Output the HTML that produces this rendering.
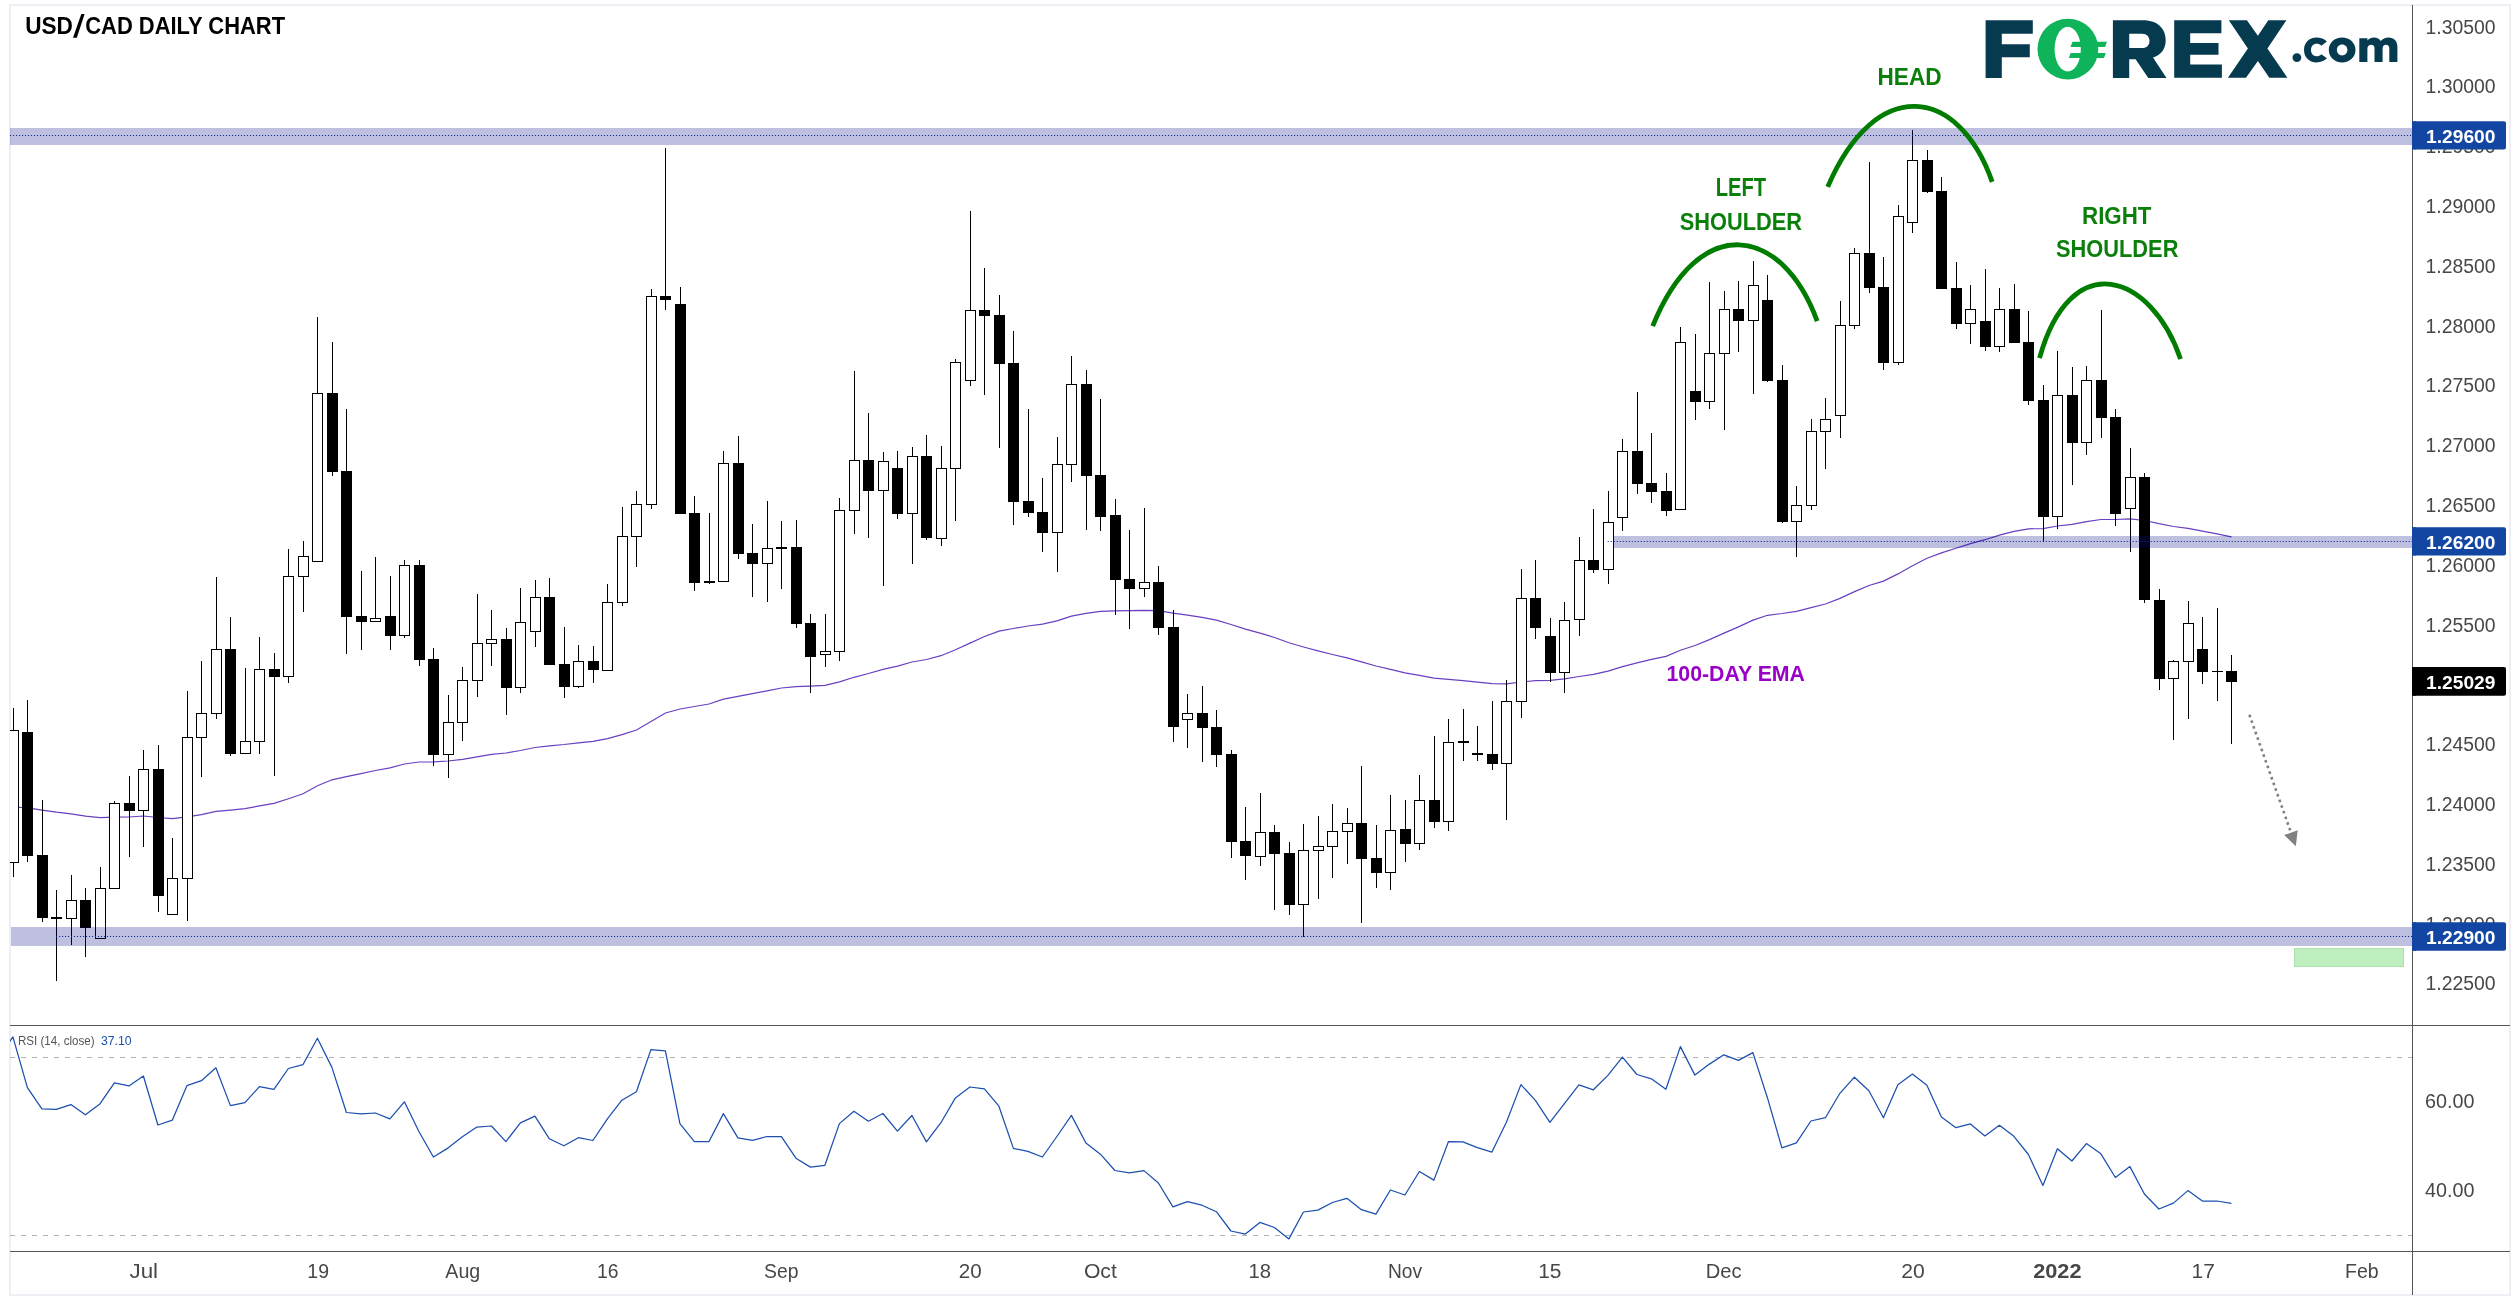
<!DOCTYPE html><html><head><meta charset="utf-8"><style>html,body{margin:0;padding:0;background:#fff;}svg{display:block;will-change:transform} text{font-family:"Liberation Sans",sans-serif;}</style></head><body>
<svg width="2520" height="1301" viewBox="0 0 2520 1301">
<rect width="2520" height="1301" fill="#fff"/>
<defs><clipPath id="mp"><rect x="10" y="5" width="2402" height="1020"/></clipPath><clipPath id="rp"><rect x="10" y="1026" width="2402" height="225"/></clipPath></defs>
<rect x="10" y="5" width="2500" height="1290" fill="none" stroke="#edeff4" stroke-width="2"/>
<g clip-path="url(#mp)">
<polyline points="13.0,807.0 27.5,807.9 42.0,810.1 56.5,812.2 71.0,813.9 85.5,816.1 100.0,817.6 114.5,817.2 129.0,817.0 143.5,816.0 158.0,817.5 172.5,818.6 187.0,816.9 201.5,814.7 216.0,811.4 230.5,810.2 245.0,808.7 259.5,805.9 274.0,803.3 288.5,798.7 303.0,793.7 317.5,785.7 332.0,779.8 346.5,776.6 361.0,773.6 375.5,770.5 390.0,767.9 404.5,764.0 419.0,762.0 433.5,761.8 448.0,761.0 462.5,759.3 477.0,756.9 491.5,754.4 506.0,753.0 520.5,750.5 535.0,747.5 549.5,745.8 564.0,744.5 578.5,742.8 593.0,741.3 607.5,738.6 622.0,734.6 636.5,730.0 651.0,721.4 665.5,713.0 680.0,709.0 694.5,706.5 709.0,704.0 723.5,699.2 738.0,696.3 752.5,693.7 767.0,690.8 781.5,688.0 796.0,686.7 810.5,686.1 825.0,685.4 839.5,681.8 854.0,677.3 868.5,673.5 883.0,669.3 897.5,666.2 912.0,662.0 926.5,659.5 941.0,655.7 955.5,649.8 970.0,643.1 984.5,636.5 999.0,631.1 1013.5,628.5 1028.0,626.0 1042.5,624.1 1057.0,620.8 1071.5,616.1 1086.0,613.3 1100.5,611.4 1115.0,610.9 1129.5,610.6 1144.0,610.3 1158.5,610.7 1173.0,613.1 1187.5,615.1 1202.0,617.4 1216.5,620.1 1231.0,624.5 1245.5,629.1 1260.0,633.1 1274.5,637.5 1289.0,642.8 1303.5,647.0 1318.0,650.9 1332.5,654.5 1347.0,657.9 1361.5,661.9 1376.0,666.0 1390.5,669.3 1405.0,672.8 1419.5,675.3 1434.0,678.2 1448.5,679.4 1463.0,680.7 1477.5,682.1 1492.0,683.7 1506.5,683.9 1521.0,682.0 1535.5,680.7 1550.0,680.3 1564.5,678.9 1579.0,676.5 1593.5,674.3 1608.0,671.1 1622.5,666.7 1637.0,662.9 1651.5,659.4 1666.0,656.4 1680.5,650.3 1695.0,645.5 1709.5,639.6 1724.0,633.1 1738.5,626.9 1753.0,620.1 1767.5,615.3 1782.0,613.5 1796.5,611.3 1811.0,607.7 1825.5,604.0 1840.0,598.4 1854.5,591.6 1869.0,585.5 1883.5,581.1 1898.0,573.9 1912.5,565.7 1927.0,558.2 1941.5,552.9 1956.0,548.3 1970.5,543.6 1985.0,539.7 1999.5,535.2 2014.0,531.4 2028.5,528.8 2043.0,528.6 2057.5,526.0 2072.0,524.4 2086.5,521.6 2101.0,519.5 2115.5,519.5 2130.0,518.8 2144.5,520.5 2159.0,523.7 2173.5,526.5 2188.0,528.4 2202.5,531.2 2217.0,533.9 2231.5,536.8" fill="none" stroke="#6a3fc0" stroke-width="1.2"/>
<g shape-rendering="crispEdges">
<rect x="13" y="708" width="1" height="169" fill="#000"/>
<rect x="8" y="730" width="11" height="133" fill="#000"/>
<rect x="9" y="731" width="9" height="131" fill="#fff"/>
<rect x="27" y="700" width="1" height="162" fill="#000"/>
<rect x="22" y="732" width="11" height="124" fill="#000"/>
<rect x="42" y="800" width="1" height="122" fill="#000"/>
<rect x="37" y="855" width="11" height="63" fill="#000"/>
<rect x="56" y="890" width="1" height="91" fill="#000"/>
<rect x="51" y="917" width="11" height="2" fill="#000"/>
<rect x="71" y="875" width="1" height="70" fill="#000"/>
<rect x="66" y="900" width="11" height="19" fill="#000"/>
<rect x="67" y="901" width="9" height="17" fill="#fff"/>
<rect x="85" y="888" width="1" height="69" fill="#000"/>
<rect x="80" y="900" width="11" height="28" fill="#000"/>
<rect x="100" y="867" width="1" height="71" fill="#000"/>
<rect x="95" y="888" width="11" height="51" fill="#000"/>
<rect x="96" y="889" width="9" height="49" fill="#fff"/>
<rect x="114" y="801" width="1" height="88" fill="#000"/>
<rect x="109" y="803" width="11" height="86" fill="#000"/>
<rect x="110" y="804" width="9" height="84" fill="#fff"/>
<rect x="129" y="776" width="1" height="81" fill="#000"/>
<rect x="124" y="803" width="11" height="8" fill="#000"/>
<rect x="143" y="750" width="1" height="97" fill="#000"/>
<rect x="138" y="769" width="11" height="42" fill="#000"/>
<rect x="139" y="770" width="9" height="40" fill="#fff"/>
<rect x="158" y="745" width="1" height="167" fill="#000"/>
<rect x="153" y="769" width="11" height="127" fill="#000"/>
<rect x="172" y="838" width="1" height="76" fill="#000"/>
<rect x="167" y="878" width="11" height="37" fill="#000"/>
<rect x="168" y="879" width="9" height="35" fill="#fff"/>
<rect x="187" y="691" width="1" height="230" fill="#000"/>
<rect x="182" y="737" width="11" height="142" fill="#000"/>
<rect x="183" y="738" width="9" height="140" fill="#fff"/>
<rect x="201" y="661" width="1" height="116" fill="#000"/>
<rect x="196" y="713" width="11" height="25" fill="#000"/>
<rect x="197" y="714" width="9" height="23" fill="#fff"/>
<rect x="216" y="577" width="1" height="142" fill="#000"/>
<rect x="211" y="649" width="11" height="65" fill="#000"/>
<rect x="212" y="650" width="9" height="63" fill="#fff"/>
<rect x="230" y="617" width="1" height="139" fill="#000"/>
<rect x="225" y="649" width="11" height="105" fill="#000"/>
<rect x="245" y="668" width="1" height="85" fill="#000"/>
<rect x="240" y="741" width="11" height="13" fill="#000"/>
<rect x="241" y="742" width="9" height="11" fill="#fff"/>
<rect x="259" y="637" width="1" height="117" fill="#000"/>
<rect x="254" y="669" width="11" height="73" fill="#000"/>
<rect x="255" y="670" width="9" height="71" fill="#fff"/>
<rect x="274" y="653" width="1" height="123" fill="#000"/>
<rect x="269" y="669" width="11" height="8" fill="#000"/>
<rect x="288" y="549" width="1" height="134" fill="#000"/>
<rect x="283" y="576" width="11" height="101" fill="#000"/>
<rect x="284" y="577" width="9" height="99" fill="#fff"/>
<rect x="303" y="541" width="1" height="71" fill="#000"/>
<rect x="298" y="556" width="11" height="21" fill="#000"/>
<rect x="299" y="557" width="9" height="19" fill="#fff"/>
<rect x="317" y="317" width="1" height="244" fill="#000"/>
<rect x="312" y="393" width="11" height="169" fill="#000"/>
<rect x="313" y="394" width="9" height="167" fill="#fff"/>
<rect x="332" y="342" width="1" height="134" fill="#000"/>
<rect x="327" y="393" width="11" height="79" fill="#000"/>
<rect x="346" y="409" width="1" height="245" fill="#000"/>
<rect x="341" y="471" width="11" height="146" fill="#000"/>
<rect x="361" y="571" width="1" height="79" fill="#000"/>
<rect x="356" y="616" width="11" height="6" fill="#000"/>
<rect x="375" y="557" width="1" height="65" fill="#000"/>
<rect x="370" y="618" width="11" height="4" fill="#000"/>
<rect x="371" y="619" width="9" height="2" fill="#fff"/>
<rect x="390" y="576" width="1" height="74" fill="#000"/>
<rect x="385" y="616" width="11" height="20" fill="#000"/>
<rect x="404" y="560" width="1" height="78" fill="#000"/>
<rect x="399" y="565" width="11" height="71" fill="#000"/>
<rect x="400" y="566" width="9" height="69" fill="#fff"/>
<rect x="419" y="560" width="1" height="106" fill="#000"/>
<rect x="414" y="565" width="11" height="95" fill="#000"/>
<rect x="433" y="648" width="1" height="118" fill="#000"/>
<rect x="428" y="659" width="11" height="96" fill="#000"/>
<rect x="448" y="695" width="1" height="83" fill="#000"/>
<rect x="443" y="722" width="11" height="33" fill="#000"/>
<rect x="444" y="723" width="9" height="31" fill="#fff"/>
<rect x="462" y="667" width="1" height="74" fill="#000"/>
<rect x="457" y="680" width="11" height="43" fill="#000"/>
<rect x="458" y="681" width="9" height="41" fill="#fff"/>
<rect x="477" y="594" width="1" height="103" fill="#000"/>
<rect x="472" y="643" width="11" height="38" fill="#000"/>
<rect x="473" y="644" width="9" height="36" fill="#fff"/>
<rect x="491" y="610" width="1" height="56" fill="#000"/>
<rect x="486" y="639" width="11" height="5" fill="#000"/>
<rect x="487" y="640" width="9" height="3" fill="#fff"/>
<rect x="506" y="628" width="1" height="87" fill="#000"/>
<rect x="501" y="639" width="11" height="49" fill="#000"/>
<rect x="520" y="588" width="1" height="105" fill="#000"/>
<rect x="515" y="622" width="11" height="66" fill="#000"/>
<rect x="516" y="623" width="9" height="64" fill="#fff"/>
<rect x="535" y="580" width="1" height="67" fill="#000"/>
<rect x="530" y="597" width="11" height="35" fill="#000"/>
<rect x="531" y="598" width="9" height="33" fill="#fff"/>
<rect x="549" y="578" width="1" height="87" fill="#000"/>
<rect x="544" y="597" width="11" height="68" fill="#000"/>
<rect x="564" y="627" width="1" height="71" fill="#000"/>
<rect x="559" y="664" width="11" height="23" fill="#000"/>
<rect x="578" y="645" width="1" height="43" fill="#000"/>
<rect x="573" y="661" width="11" height="26" fill="#000"/>
<rect x="574" y="662" width="9" height="24" fill="#fff"/>
<rect x="593" y="646" width="1" height="37" fill="#000"/>
<rect x="588" y="661" width="11" height="9" fill="#000"/>
<rect x="607" y="584" width="1" height="86" fill="#000"/>
<rect x="602" y="602" width="11" height="69" fill="#000"/>
<rect x="603" y="603" width="9" height="67" fill="#fff"/>
<rect x="622" y="507" width="1" height="99" fill="#000"/>
<rect x="617" y="536" width="11" height="67" fill="#000"/>
<rect x="618" y="537" width="9" height="65" fill="#fff"/>
<rect x="636" y="491" width="1" height="76" fill="#000"/>
<rect x="631" y="504" width="11" height="33" fill="#000"/>
<rect x="632" y="505" width="9" height="31" fill="#fff"/>
<rect x="651" y="289" width="1" height="220" fill="#000"/>
<rect x="646" y="296" width="11" height="209" fill="#000"/>
<rect x="647" y="297" width="9" height="207" fill="#fff"/>
<rect x="665" y="148" width="1" height="162" fill="#000"/>
<rect x="660" y="296" width="11" height="4" fill="#000"/>
<rect x="680" y="287" width="1" height="226" fill="#000"/>
<rect x="675" y="304" width="11" height="210" fill="#000"/>
<rect x="694" y="496" width="1" height="95" fill="#000"/>
<rect x="689" y="513" width="11" height="70" fill="#000"/>
<rect x="709" y="513" width="1" height="71" fill="#000"/>
<rect x="704" y="581" width="11" height="2" fill="#000"/>
<rect x="723" y="451" width="1" height="131" fill="#000"/>
<rect x="718" y="463" width="11" height="119" fill="#000"/>
<rect x="719" y="464" width="9" height="117" fill="#fff"/>
<rect x="738" y="436" width="1" height="123" fill="#000"/>
<rect x="733" y="463" width="11" height="91" fill="#000"/>
<rect x="752" y="524" width="1" height="73" fill="#000"/>
<rect x="747" y="553" width="11" height="11" fill="#000"/>
<rect x="767" y="501" width="1" height="101" fill="#000"/>
<rect x="762" y="548" width="11" height="16" fill="#000"/>
<rect x="763" y="549" width="9" height="14" fill="#fff"/>
<rect x="781" y="521" width="1" height="68" fill="#000"/>
<rect x="776" y="547" width="11" height="2" fill="#000"/>
<rect x="796" y="520" width="1" height="108" fill="#000"/>
<rect x="791" y="547" width="11" height="77" fill="#000"/>
<rect x="810" y="614" width="1" height="79" fill="#000"/>
<rect x="805" y="623" width="11" height="34" fill="#000"/>
<rect x="825" y="614" width="1" height="53" fill="#000"/>
<rect x="820" y="651" width="11" height="4" fill="#000"/>
<rect x="821" y="652" width="9" height="2" fill="#fff"/>
<rect x="839" y="498" width="1" height="163" fill="#000"/>
<rect x="834" y="510" width="11" height="142" fill="#000"/>
<rect x="835" y="511" width="9" height="140" fill="#fff"/>
<rect x="854" y="371" width="1" height="163" fill="#000"/>
<rect x="849" y="460" width="11" height="51" fill="#000"/>
<rect x="850" y="461" width="9" height="49" fill="#fff"/>
<rect x="868" y="413" width="1" height="125" fill="#000"/>
<rect x="863" y="460" width="11" height="31" fill="#000"/>
<rect x="883" y="452" width="1" height="134" fill="#000"/>
<rect x="878" y="461" width="11" height="30" fill="#000"/>
<rect x="879" y="462" width="9" height="28" fill="#fff"/>
<rect x="897" y="451" width="1" height="68" fill="#000"/>
<rect x="892" y="468" width="11" height="46" fill="#000"/>
<rect x="912" y="447" width="1" height="117" fill="#000"/>
<rect x="907" y="456" width="11" height="58" fill="#000"/>
<rect x="908" y="457" width="9" height="56" fill="#fff"/>
<rect x="926" y="435" width="1" height="105" fill="#000"/>
<rect x="921" y="456" width="11" height="82" fill="#000"/>
<rect x="941" y="446" width="1" height="100" fill="#000"/>
<rect x="936" y="468" width="11" height="71" fill="#000"/>
<rect x="937" y="469" width="9" height="69" fill="#fff"/>
<rect x="955" y="359" width="1" height="162" fill="#000"/>
<rect x="950" y="362" width="11" height="107" fill="#000"/>
<rect x="951" y="363" width="9" height="105" fill="#fff"/>
<rect x="970" y="211" width="1" height="175" fill="#000"/>
<rect x="965" y="310" width="11" height="71" fill="#000"/>
<rect x="966" y="311" width="9" height="69" fill="#fff"/>
<rect x="984" y="268" width="1" height="127" fill="#000"/>
<rect x="979" y="310" width="11" height="6" fill="#000"/>
<rect x="999" y="295" width="1" height="153" fill="#000"/>
<rect x="994" y="315" width="11" height="49" fill="#000"/>
<rect x="1013" y="331" width="1" height="194" fill="#000"/>
<rect x="1008" y="363" width="11" height="139" fill="#000"/>
<rect x="1028" y="409" width="1" height="108" fill="#000"/>
<rect x="1023" y="501" width="11" height="12" fill="#000"/>
<rect x="1042" y="478" width="1" height="74" fill="#000"/>
<rect x="1037" y="512" width="11" height="21" fill="#000"/>
<rect x="1057" y="437" width="1" height="135" fill="#000"/>
<rect x="1052" y="464" width="11" height="69" fill="#000"/>
<rect x="1053" y="465" width="9" height="67" fill="#fff"/>
<rect x="1071" y="356" width="1" height="126" fill="#000"/>
<rect x="1066" y="384" width="11" height="81" fill="#000"/>
<rect x="1067" y="385" width="9" height="79" fill="#fff"/>
<rect x="1086" y="370" width="1" height="160" fill="#000"/>
<rect x="1081" y="384" width="11" height="92" fill="#000"/>
<rect x="1100" y="399" width="1" height="132" fill="#000"/>
<rect x="1095" y="475" width="11" height="42" fill="#000"/>
<rect x="1115" y="499" width="1" height="116" fill="#000"/>
<rect x="1110" y="515" width="11" height="65" fill="#000"/>
<rect x="1129" y="530" width="1" height="99" fill="#000"/>
<rect x="1124" y="579" width="11" height="10" fill="#000"/>
<rect x="1144" y="508" width="1" height="89" fill="#000"/>
<rect x="1139" y="582" width="11" height="7" fill="#000"/>
<rect x="1140" y="583" width="9" height="5" fill="#fff"/>
<rect x="1158" y="566" width="1" height="69" fill="#000"/>
<rect x="1153" y="582" width="11" height="46" fill="#000"/>
<rect x="1173" y="610" width="1" height="132" fill="#000"/>
<rect x="1168" y="627" width="11" height="100" fill="#000"/>
<rect x="1187" y="694" width="1" height="54" fill="#000"/>
<rect x="1182" y="713" width="11" height="7" fill="#000"/>
<rect x="1183" y="714" width="9" height="5" fill="#fff"/>
<rect x="1202" y="686" width="1" height="76" fill="#000"/>
<rect x="1197" y="713" width="11" height="15" fill="#000"/>
<rect x="1216" y="710" width="1" height="57" fill="#000"/>
<rect x="1211" y="727" width="11" height="28" fill="#000"/>
<rect x="1231" y="750" width="1" height="108" fill="#000"/>
<rect x="1226" y="754" width="11" height="88" fill="#000"/>
<rect x="1245" y="807" width="1" height="73" fill="#000"/>
<rect x="1240" y="841" width="11" height="15" fill="#000"/>
<rect x="1260" y="793" width="1" height="73" fill="#000"/>
<rect x="1255" y="832" width="11" height="25" fill="#000"/>
<rect x="1256" y="833" width="9" height="23" fill="#fff"/>
<rect x="1274" y="825" width="1" height="85" fill="#000"/>
<rect x="1269" y="832" width="11" height="22" fill="#000"/>
<rect x="1289" y="842" width="1" height="73" fill="#000"/>
<rect x="1284" y="853" width="11" height="52" fill="#000"/>
<rect x="1303" y="824" width="1" height="113" fill="#000"/>
<rect x="1298" y="850" width="11" height="55" fill="#000"/>
<rect x="1299" y="851" width="9" height="53" fill="#fff"/>
<rect x="1318" y="816" width="1" height="83" fill="#000"/>
<rect x="1313" y="846" width="11" height="5" fill="#000"/>
<rect x="1314" y="847" width="9" height="3" fill="#fff"/>
<rect x="1332" y="804" width="1" height="74" fill="#000"/>
<rect x="1327" y="831" width="11" height="16" fill="#000"/>
<rect x="1328" y="832" width="9" height="14" fill="#fff"/>
<rect x="1347" y="808" width="1" height="56" fill="#000"/>
<rect x="1342" y="823" width="11" height="9" fill="#000"/>
<rect x="1343" y="824" width="9" height="7" fill="#fff"/>
<rect x="1361" y="766" width="1" height="157" fill="#000"/>
<rect x="1356" y="823" width="11" height="36" fill="#000"/>
<rect x="1376" y="825" width="1" height="63" fill="#000"/>
<rect x="1371" y="858" width="11" height="15" fill="#000"/>
<rect x="1390" y="795" width="1" height="95" fill="#000"/>
<rect x="1385" y="830" width="11" height="43" fill="#000"/>
<rect x="1386" y="831" width="9" height="41" fill="#fff"/>
<rect x="1405" y="800" width="1" height="62" fill="#000"/>
<rect x="1400" y="829" width="11" height="15" fill="#000"/>
<rect x="1419" y="775" width="1" height="75" fill="#000"/>
<rect x="1414" y="800" width="11" height="44" fill="#000"/>
<rect x="1415" y="801" width="9" height="42" fill="#fff"/>
<rect x="1434" y="736" width="1" height="92" fill="#000"/>
<rect x="1429" y="800" width="11" height="22" fill="#000"/>
<rect x="1448" y="719" width="1" height="112" fill="#000"/>
<rect x="1443" y="742" width="11" height="80" fill="#000"/>
<rect x="1444" y="743" width="9" height="78" fill="#fff"/>
<rect x="1463" y="709" width="1" height="52" fill="#000"/>
<rect x="1458" y="741" width="11" height="2" fill="#000"/>
<rect x="1477" y="726" width="1" height="35" fill="#000"/>
<rect x="1472" y="753" width="11" height="2" fill="#000"/>
<rect x="1492" y="701" width="1" height="69" fill="#000"/>
<rect x="1487" y="754" width="11" height="10" fill="#000"/>
<rect x="1506" y="680" width="1" height="140" fill="#000"/>
<rect x="1501" y="701" width="11" height="63" fill="#000"/>
<rect x="1502" y="702" width="9" height="61" fill="#fff"/>
<rect x="1521" y="569" width="1" height="149" fill="#000"/>
<rect x="1516" y="598" width="11" height="104" fill="#000"/>
<rect x="1517" y="599" width="9" height="102" fill="#fff"/>
<rect x="1535" y="560" width="1" height="79" fill="#000"/>
<rect x="1530" y="598" width="11" height="30" fill="#000"/>
<rect x="1550" y="618" width="1" height="64" fill="#000"/>
<rect x="1545" y="636" width="11" height="37" fill="#000"/>
<rect x="1564" y="602" width="1" height="91" fill="#000"/>
<rect x="1559" y="620" width="11" height="53" fill="#000"/>
<rect x="1560" y="621" width="9" height="51" fill="#fff"/>
<rect x="1579" y="537" width="1" height="99" fill="#000"/>
<rect x="1574" y="560" width="11" height="60" fill="#000"/>
<rect x="1575" y="561" width="9" height="58" fill="#fff"/>
<rect x="1593" y="509" width="1" height="64" fill="#000"/>
<rect x="1588" y="560" width="11" height="10" fill="#000"/>
<rect x="1608" y="491" width="1" height="93" fill="#000"/>
<rect x="1603" y="522" width="11" height="48" fill="#000"/>
<rect x="1604" y="523" width="9" height="46" fill="#fff"/>
<rect x="1622" y="439" width="1" height="92" fill="#000"/>
<rect x="1617" y="451" width="11" height="67" fill="#000"/>
<rect x="1618" y="452" width="9" height="65" fill="#fff"/>
<rect x="1637" y="392" width="1" height="102" fill="#000"/>
<rect x="1632" y="451" width="11" height="33" fill="#000"/>
<rect x="1651" y="433" width="1" height="70" fill="#000"/>
<rect x="1646" y="483" width="11" height="9" fill="#000"/>
<rect x="1666" y="473" width="1" height="43" fill="#000"/>
<rect x="1661" y="491" width="11" height="20" fill="#000"/>
<rect x="1680" y="327" width="1" height="183" fill="#000"/>
<rect x="1675" y="342" width="11" height="168" fill="#000"/>
<rect x="1676" y="343" width="9" height="166" fill="#fff"/>
<rect x="1695" y="334" width="1" height="86" fill="#000"/>
<rect x="1690" y="391" width="11" height="11" fill="#000"/>
<rect x="1709" y="282" width="1" height="127" fill="#000"/>
<rect x="1704" y="353" width="11" height="49" fill="#000"/>
<rect x="1705" y="354" width="9" height="47" fill="#fff"/>
<rect x="1724" y="291" width="1" height="139" fill="#000"/>
<rect x="1719" y="309" width="11" height="45" fill="#000"/>
<rect x="1720" y="310" width="9" height="43" fill="#fff"/>
<rect x="1738" y="281" width="1" height="71" fill="#000"/>
<rect x="1733" y="309" width="11" height="12" fill="#000"/>
<rect x="1753" y="261" width="1" height="133" fill="#000"/>
<rect x="1748" y="285" width="11" height="36" fill="#000"/>
<rect x="1749" y="286" width="9" height="34" fill="#fff"/>
<rect x="1767" y="275" width="1" height="107" fill="#000"/>
<rect x="1762" y="300" width="11" height="81" fill="#000"/>
<rect x="1782" y="365" width="1" height="158" fill="#000"/>
<rect x="1777" y="380" width="11" height="142" fill="#000"/>
<rect x="1796" y="486" width="1" height="71" fill="#000"/>
<rect x="1791" y="505" width="11" height="17" fill="#000"/>
<rect x="1792" y="506" width="9" height="15" fill="#fff"/>
<rect x="1811" y="419" width="1" height="91" fill="#000"/>
<rect x="1806" y="431" width="11" height="75" fill="#000"/>
<rect x="1807" y="432" width="9" height="73" fill="#fff"/>
<rect x="1825" y="398" width="1" height="71" fill="#000"/>
<rect x="1820" y="419" width="11" height="13" fill="#000"/>
<rect x="1821" y="420" width="9" height="11" fill="#fff"/>
<rect x="1840" y="301" width="1" height="137" fill="#000"/>
<rect x="1835" y="325" width="11" height="91" fill="#000"/>
<rect x="1836" y="326" width="9" height="89" fill="#fff"/>
<rect x="1854" y="248" width="1" height="81" fill="#000"/>
<rect x="1849" y="253" width="11" height="73" fill="#000"/>
<rect x="1850" y="254" width="9" height="71" fill="#fff"/>
<rect x="1869" y="162" width="1" height="131" fill="#000"/>
<rect x="1864" y="253" width="11" height="35" fill="#000"/>
<rect x="1883" y="257" width="1" height="113" fill="#000"/>
<rect x="1878" y="287" width="11" height="76" fill="#000"/>
<rect x="1898" y="205" width="1" height="160" fill="#000"/>
<rect x="1893" y="216" width="11" height="147" fill="#000"/>
<rect x="1894" y="217" width="9" height="145" fill="#fff"/>
<rect x="1912" y="130" width="1" height="103" fill="#000"/>
<rect x="1907" y="160" width="11" height="63" fill="#000"/>
<rect x="1908" y="161" width="9" height="61" fill="#fff"/>
<rect x="1927" y="150" width="1" height="43" fill="#000"/>
<rect x="1922" y="160" width="11" height="32" fill="#000"/>
<rect x="1941" y="177" width="1" height="111" fill="#000"/>
<rect x="1936" y="191" width="11" height="98" fill="#000"/>
<rect x="1956" y="262" width="1" height="67" fill="#000"/>
<rect x="1951" y="288" width="11" height="36" fill="#000"/>
<rect x="1970" y="285" width="1" height="59" fill="#000"/>
<rect x="1965" y="309" width="11" height="15" fill="#000"/>
<rect x="1966" y="310" width="9" height="13" fill="#fff"/>
<rect x="1985" y="269" width="1" height="82" fill="#000"/>
<rect x="1980" y="321" width="11" height="26" fill="#000"/>
<rect x="1999" y="288" width="1" height="64" fill="#000"/>
<rect x="1994" y="309" width="11" height="38" fill="#000"/>
<rect x="1995" y="310" width="9" height="36" fill="#fff"/>
<rect x="2014" y="284" width="1" height="58" fill="#000"/>
<rect x="2009" y="309" width="11" height="34" fill="#000"/>
<rect x="2028" y="311" width="1" height="94" fill="#000"/>
<rect x="2023" y="342" width="11" height="59" fill="#000"/>
<rect x="2043" y="385" width="1" height="157" fill="#000"/>
<rect x="2038" y="400" width="11" height="117" fill="#000"/>
<rect x="2057" y="351" width="1" height="178" fill="#000"/>
<rect x="2052" y="395" width="11" height="122" fill="#000"/>
<rect x="2053" y="396" width="9" height="120" fill="#fff"/>
<rect x="2072" y="367" width="1" height="118" fill="#000"/>
<rect x="2067" y="395" width="11" height="48" fill="#000"/>
<rect x="2086" y="366" width="1" height="89" fill="#000"/>
<rect x="2081" y="380" width="11" height="63" fill="#000"/>
<rect x="2082" y="381" width="9" height="61" fill="#fff"/>
<rect x="2101" y="310" width="1" height="128" fill="#000"/>
<rect x="2096" y="380" width="11" height="38" fill="#000"/>
<rect x="2115" y="409" width="1" height="117" fill="#000"/>
<rect x="2110" y="417" width="11" height="97" fill="#000"/>
<rect x="2130" y="448" width="1" height="104" fill="#000"/>
<rect x="2125" y="477" width="11" height="32" fill="#000"/>
<rect x="2126" y="478" width="9" height="30" fill="#fff"/>
<rect x="2144" y="473" width="1" height="130" fill="#000"/>
<rect x="2139" y="477" width="11" height="123" fill="#000"/>
<rect x="2159" y="589" width="1" height="101" fill="#000"/>
<rect x="2154" y="600" width="11" height="79" fill="#000"/>
<rect x="2173" y="660" width="1" height="80" fill="#000"/>
<rect x="2168" y="661" width="11" height="18" fill="#000"/>
<rect x="2169" y="662" width="9" height="16" fill="#fff"/>
<rect x="2188" y="601" width="1" height="118" fill="#000"/>
<rect x="2183" y="623" width="11" height="39" fill="#000"/>
<rect x="2184" y="624" width="9" height="37" fill="#fff"/>
<rect x="2202" y="617" width="1" height="67" fill="#000"/>
<rect x="2197" y="649" width="11" height="23" fill="#000"/>
<rect x="2217" y="608" width="1" height="93" fill="#000"/>
<rect x="2212" y="671" width="11" height="1" fill="#000"/>
<rect x="2231" y="655" width="1" height="89" fill="#000"/>
<rect x="2226" y="671" width="11" height="11" fill="#000"/>
</g>
<g shape-rendering="crispEdges">
<rect x="10" y="128" width="2402" height="17" fill="rgba(0,0,128,0.25)"/>
<rect x="11" y="927" width="2401" height="19" fill="rgba(0,0,128,0.25)"/>
<rect x="1614" y="536" width="798" height="12" fill="rgba(0,0,128,0.25)"/>
</g>
<g stroke="#0d2a96" stroke-width="1.1" stroke-dasharray="1.1 1.9">
<line x1="10" y1="135.5" x2="2412" y2="135.5"/>
<line x1="56" y1="936.5" x2="2412" y2="936.5"/>
<line x1="1607.7" y1="541.5" x2="2412" y2="541.5"/>
</g>
<g fill="none" stroke="#007d00" stroke-width="4.8">
<path d="M1652.7,326.1 C1698.7,212.3 1781.9,224.7 1817.2,321.1"/>
<path d="M1827.7,186.9 C1875.9,74.2 1959.2,86.8 1992.2,181.9"/>
<path d="M2039.5,358.2 C2070.5,246.2 2151.3,273.0 2180.5,358.9"/>
</g>
<rect x="2294.5" y="948.5" width="109" height="18" fill="#bfeebf" stroke="#aee0ae" stroke-width="1"/>
<line x1="2249.4" y1="714.8" x2="2290.6" y2="831.5" stroke="#808080" stroke-width="2.6" stroke-dasharray="2.6 3.4"/>
<polygon points="2284.2,835.1 2297.7,830.2 2295.8,846.2" fill="#808080"/>
</g>
<g fill="#063b4f">
<path d="M1985.6,20.3 H2032.8 V33.8 H2001.8 V44.3 H2029.8 V57.2 H2001.8 V77.9 H1985.6 Z"/>
<path fill-rule="evenodd" d="M2112.9,20.3 H2143 C2158,20.3 2165.7,29 2165.7,40.2 C2165.7,49 2161,55 2153,57.6 L2166.5,77.9 H2148.3 L2135.6,59.2 H2129.2 V77.9 H2112.9 Z M2129.2,33.8 V48.1 H2142 C2147,48.1 2149.5,45 2149.5,41 C2149.5,37 2147,33.8 2142,33.8 Z"/>
<path d="M2174.2,20.3 H2221.4 V33.3 H2190.2 V42.9 H2218.5 V54.8 H2190.2 V64.6 H2221.9 V77.8 H2174.2 Z"/>
<path d="M2228.8,20.3 H2246.9 L2257.9,35.7 L2268.3,20.3 H2286.4 L2267.4,48.6 L2287.4,77.8 H2269.3 L2257.9,61 L2246,77.8 H2227.9 L2247.9,48.6 Z"/>
<circle cx="2296.9" cy="57.6" r="4.4"/>
<path d="M2326.9,41.5 C2324.5,38.8 2320.5,37.6 2316.5,37.6 C2309,37.6 2304,43 2304,50 C2304,57 2309,62.4 2316.5,62.4 C2320.5,62.4 2324.5,61 2326.9,58.3 L2321.3,54.2 C2320,55.6 2318.5,56.2 2316.5,56.2 C2313.2,56.2 2311,53.6 2311,50 C2311,46.4 2313.2,43.8 2316.5,43.8 C2318.5,43.8 2320,44.4 2321.3,45.8 Z"/>
<path fill-rule="evenodd" d="M2342.1,37.6 C2334.5,37.6 2328.8,43 2328.8,50 C2328.8,57 2334.5,62.4 2342.1,62.4 C2349.7,62.4 2355.5,57 2355.5,50 C2355.5,43 2349.7,37.6 2342.1,37.6 Z M2342.1,44.6 C2345.2,44.6 2347.4,47 2347.4,50 C2347.4,53 2345.2,55.4 2342.1,55.4 C2339,55.4 2336.9,53 2336.9,50 C2336.9,47 2339,44.6 2342.1,44.6 Z"/>
<path d="M2359.3,38.2 H2367.4 V40.5 C2369,38.6 2371.3,37.6 2374,37.6 C2377,37.6 2379.4,38.8 2380.8,41 C2382.6,38.8 2385.3,37.6 2388.5,37.6 C2394,37.6 2397.4,41 2397.4,47 V61.9 H2389.3 V48.5 C2389.3,46 2388.2,44.8 2386,44.8 C2383.8,44.8 2382.6,46.2 2382.6,48.8 V61.9 H2374.5 V48.5 C2374.5,46 2373.4,44.8 2371.2,44.8 C2369,44.8 2367.4,46.2 2367.4,48.8 V61.9 H2359.3 Z"/>
</g>
<path fill="#0fb45a" fill-rule="evenodd" d="M2067.9,18.7 A30.4,30.4 0 1,1 2067.9,79.5 A30.4,30.4 0 1,1 2067.9,18.7 Z M2067.7,26.7 A13.1,22.4 0 1,0 2067.7,71.5 A13.1,22.4 0 1,0 2067.7,26.7 Z"/>
<path fill="#0fb45a" d="M2072.5,41.7 H2107 L2105,47.1 H2070.5 Z M2070.7,52.9 H2105.8 L2104,58 H2068.8 Z"/>
<g shape-rendering="crispEdges">
<rect x="2412" y="5" width="1" height="1290" fill="#555"/>
<rect x="10" y="1025" width="2500" height="1" fill="#555"/>
<rect x="10" y="1251" width="2500" height="1" fill="#555"/>
</g>
<g clip-path="url(#rp)">
<g stroke="#b2b2b2" stroke-width="1" stroke-dasharray="4.8 6.2" shape-rendering="crispEdges">
<line x1="10.3" y1="1057.5" x2="2412" y2="1057.5"/>
<line x1="10.3" y1="1235.5" x2="2412" y2="1235.5"/>
</g>
<polyline points="-1.6,1058.0 12.9,1036.9 27.4,1087.7 41.9,1108.8 56.4,1109.3 70.9,1104.6 85.4,1114.8 99.9,1103.9 114.4,1082.8 128.9,1085.9 143.4,1076.0 157.9,1125.0 172.4,1120.1 186.9,1085.7 201.4,1080.7 215.9,1067.8 230.4,1105.6 244.9,1102.7 259.4,1086.6 273.9,1089.4 288.4,1068.5 302.9,1064.7 317.4,1038.2 331.9,1067.4 346.4,1112.5 360.9,1113.9 375.4,1113.0 389.9,1118.8 404.4,1101.8 418.9,1131.5 433.4,1157.0 447.9,1148.1 462.4,1136.8 476.9,1127.1 491.4,1126.0 505.9,1141.6 520.4,1122.9 534.9,1116.1 549.4,1138.8 563.9,1145.8 578.4,1137.7 592.9,1140.5 607.4,1118.8 621.9,1100.2 636.4,1091.7 650.9,1049.6 665.4,1050.9 679.9,1123.6 694.4,1141.7 708.9,1141.7 723.4,1113.6 737.9,1137.9 752.4,1140.4 766.9,1136.5 781.4,1136.7 795.9,1158.2 810.4,1167.1 824.9,1165.3 839.4,1123.6 853.9,1111.2 868.4,1121.2 882.9,1113.5 897.4,1131.2 911.9,1115.5 926.4,1141.9 940.9,1122.7 955.4,1097.9 969.9,1087.0 984.4,1088.8 998.9,1106.2 1013.4,1148.4 1027.9,1151.3 1042.4,1157.0 1056.9,1136.5 1071.4,1115.4 1085.9,1143.0 1100.4,1154.2 1114.9,1170.5 1129.4,1172.8 1143.9,1170.6 1158.4,1183.0 1172.9,1206.8 1187.4,1201.7 1201.9,1205.2 1216.4,1211.7 1230.9,1231.0 1245.4,1234.1 1259.9,1222.4 1274.4,1227.5 1288.9,1238.9 1303.4,1212.0 1317.9,1210.1 1332.4,1202.5 1346.9,1198.3 1361.4,1209.7 1375.9,1214.1 1390.4,1190.0 1404.9,1195.0 1419.4,1171.5 1433.9,1180.1 1448.4,1141.7 1462.9,1141.9 1477.4,1147.7 1491.9,1152.1 1506.4,1122.2 1520.9,1084.6 1535.4,1100.3 1549.9,1122.4 1564.4,1103.6 1578.9,1084.9 1593.4,1089.8 1607.9,1075.4 1622.4,1057.1 1636.9,1074.5 1651.4,1078.8 1665.9,1089.3 1680.4,1046.6 1694.9,1075.1 1709.4,1064.1 1723.9,1054.8 1738.4,1060.4 1752.9,1052.6 1767.4,1097.7 1781.9,1147.9 1796.4,1142.8 1810.9,1121.0 1825.4,1117.7 1839.9,1093.3 1854.4,1077.2 1868.9,1090.7 1883.4,1117.8 1897.9,1084.7 1912.4,1074.1 1926.9,1085.3 1941.4,1117.1 1955.9,1127.7 1970.4,1123.9 1984.9,1135.9 1999.4,1125.3 2013.9,1136.3 2028.4,1154.5 2042.9,1185.4 2057.4,1148.8 2071.9,1161.0 2086.4,1143.6 2100.9,1153.8 2115.4,1177.5 2129.9,1166.6 2144.4,1194.0 2158.9,1209.0 2173.4,1203.1 2187.9,1190.6 2202.4,1201.0 2216.9,1201.0 2231.4,1203.3" fill="none" stroke="#1c4fae" stroke-width="1.25" stroke-linejoin="round"/>
</g>
<text x="2425.5" y="33.6" font-size="20" font-weight="normal" fill="#474747" text-anchor="start" textLength="70" lengthAdjust="spacingAndGlyphs">1.30500</text>
<text x="2425.5" y="93.4" font-size="20" font-weight="normal" fill="#474747" text-anchor="start" textLength="70" lengthAdjust="spacingAndGlyphs">1.30000</text>
<text x="2425.5" y="153.2" font-size="20" font-weight="normal" fill="#474747" text-anchor="start" textLength="70" lengthAdjust="spacingAndGlyphs">1.29500</text>
<text x="2425.5" y="213.0" font-size="20" font-weight="normal" fill="#474747" text-anchor="start" textLength="70" lengthAdjust="spacingAndGlyphs">1.29000</text>
<text x="2425.5" y="272.8" font-size="20" font-weight="normal" fill="#474747" text-anchor="start" textLength="70" lengthAdjust="spacingAndGlyphs">1.28500</text>
<text x="2425.5" y="332.6" font-size="20" font-weight="normal" fill="#474747" text-anchor="start" textLength="70" lengthAdjust="spacingAndGlyphs">1.28000</text>
<text x="2425.5" y="392.4" font-size="20" font-weight="normal" fill="#474747" text-anchor="start" textLength="70" lengthAdjust="spacingAndGlyphs">1.27500</text>
<text x="2425.5" y="452.2" font-size="20" font-weight="normal" fill="#474747" text-anchor="start" textLength="70" lengthAdjust="spacingAndGlyphs">1.27000</text>
<text x="2425.5" y="512.0" font-size="20" font-weight="normal" fill="#474747" text-anchor="start" textLength="70" lengthAdjust="spacingAndGlyphs">1.26500</text>
<text x="2425.5" y="571.8" font-size="20" font-weight="normal" fill="#474747" text-anchor="start" textLength="70" lengthAdjust="spacingAndGlyphs">1.26000</text>
<text x="2425.5" y="631.6" font-size="20" font-weight="normal" fill="#474747" text-anchor="start" textLength="70" lengthAdjust="spacingAndGlyphs">1.25500</text>
<text x="2425.5" y="691.4" font-size="20" font-weight="normal" fill="#474747" text-anchor="start" textLength="70" lengthAdjust="spacingAndGlyphs">1.25000</text>
<text x="2425.5" y="751.2" font-size="20" font-weight="normal" fill="#474747" text-anchor="start" textLength="70" lengthAdjust="spacingAndGlyphs">1.24500</text>
<text x="2425.5" y="811.0" font-size="20" font-weight="normal" fill="#474747" text-anchor="start" textLength="70" lengthAdjust="spacingAndGlyphs">1.24000</text>
<text x="2425.5" y="870.8" font-size="20" font-weight="normal" fill="#474747" text-anchor="start" textLength="70" lengthAdjust="spacingAndGlyphs">1.23500</text>
<text x="2425.5" y="930.6" font-size="20" font-weight="normal" fill="#474747" text-anchor="start" textLength="70" lengthAdjust="spacingAndGlyphs">1.23000</text>
<text x="2425.5" y="990.4" font-size="20" font-weight="normal" fill="#474747" text-anchor="start" textLength="70" lengthAdjust="spacingAndGlyphs">1.22500</text>
<rect x="2412" y="121.3" width="94" height="28.10000000000001" rx="2" fill="#1346a2"/>
<rect x="2412" y="121.3" width="4" height="28.10000000000001" fill="#1346a2"/>
<text x="2426" y="142.7" font-size="19" font-weight="bold" fill="#fff" text-anchor="start" textLength="69.5" lengthAdjust="spacingAndGlyphs">1.29600</text>
<rect x="2412" y="527.3" width="94" height="28.200000000000045" rx="2" fill="#1346a2"/>
<rect x="2412" y="527.3" width="4" height="28.200000000000045" fill="#1346a2"/>
<text x="2426" y="548.7" font-size="19" font-weight="bold" fill="#fff" text-anchor="start" textLength="69.5" lengthAdjust="spacingAndGlyphs">1.26200</text>
<rect x="2412" y="667.1" width="94" height="28.600000000000023" rx="2" fill="#000"/>
<rect x="2412" y="667.1" width="4" height="28.600000000000023" fill="#000"/>
<text x="2426" y="688.7" font-size="19" font-weight="bold" fill="#fff" text-anchor="start" textLength="69.5" lengthAdjust="spacingAndGlyphs">1.25029</text>
<rect x="2412" y="922.3" width="94" height="28.5" rx="2" fill="#1346a2"/>
<rect x="2412" y="922.3" width="4" height="28.5" fill="#1346a2"/>
<text x="2426" y="943.8" font-size="19" font-weight="bold" fill="#fff" text-anchor="start" textLength="69.5" lengthAdjust="spacingAndGlyphs">1.22900</text>
<text x="2425" y="1108" font-size="19.5" font-weight="normal" fill="#474747" text-anchor="start" textLength="49.5" lengthAdjust="spacingAndGlyphs">60.00</text>
<text x="2425" y="1197.2" font-size="19.5" font-weight="normal" fill="#474747" text-anchor="start" textLength="49.5" lengthAdjust="spacingAndGlyphs">40.00</text>
<polygon points="81.3,14 84.6,14 76.8,37.8 73,37.8" fill="#000"/>
<text x="25.15" y="34.1" font-size="23.8" font-weight="bold" fill="#000" text-anchor="start" textLength="47.76" lengthAdjust="spacingAndGlyphs">USD</text>
<text x="85.23" y="34.1" font-size="23.8" font-weight="bold" fill="#000" text-anchor="start" textLength="199.82" lengthAdjust="spacingAndGlyphs">CAD DAILY CHART</text>
<text x="1715.7" y="196.44" font-size="24.9" font-weight="bold" fill="#0a7f0a" text-anchor="start" textLength="50.3" lengthAdjust="spacingAndGlyphs">LEFT</text>
<text x="1679.7" y="229.64" font-size="24.31" font-weight="bold" fill="#0a7f0a" text-anchor="start" textLength="122.3" lengthAdjust="spacingAndGlyphs">SHOULDER</text>
<text x="1877.5" y="84.88" font-size="24.3" font-weight="bold" fill="#0a7f0a" text-anchor="start" textLength="64.1" lengthAdjust="spacingAndGlyphs">HEAD</text>
<text x="2082.0" y="224.32" font-size="24.46" font-weight="bold" fill="#0a7f0a" text-anchor="start" textLength="69.5" lengthAdjust="spacingAndGlyphs">RIGHT</text>
<text x="2056.0" y="257.38" font-size="24.46" font-weight="bold" fill="#0a7f0a" text-anchor="start" textLength="122.4" lengthAdjust="spacingAndGlyphs">SHOULDER</text>
<text x="1666.5" y="680.64" font-size="22.76" font-weight="bold" fill="#9a00c6" text-anchor="start" textLength="138.5" lengthAdjust="spacingAndGlyphs">100-DAY EMA</text>
<text x="17.9" y="1045" font-size="12.2" font-weight="normal" fill="#555" text-anchor="start" textLength="76.7" lengthAdjust="spacingAndGlyphs">RSI (14, close)</text>
<text x="101.0" y="1045" font-size="12.2" font-weight="normal" fill="#1c4fae" text-anchor="start" textLength="30.6" lengthAdjust="spacingAndGlyphs">37.10</text>
<text x="129.5" y="1278.42" font-size="20.63" font-weight="normal" fill="#474747" text-anchor="start" textLength="28.6" lengthAdjust="spacingAndGlyphs">Jul</text>
<text x="307.3" y="1278.42" font-size="20.63" font-weight="normal" fill="#474747" text-anchor="start" textLength="21.7" lengthAdjust="spacingAndGlyphs">19</text>
<text x="445.3" y="1278.42" font-size="20.63" font-weight="normal" fill="#474747" text-anchor="start" textLength="35.0" lengthAdjust="spacingAndGlyphs">Aug</text>
<text x="597.1" y="1278.42" font-size="20.63" font-weight="normal" fill="#474747" text-anchor="start" textLength="21.5" lengthAdjust="spacingAndGlyphs">16</text>
<text x="764.0" y="1278.42" font-size="20.63" font-weight="normal" fill="#474747" text-anchor="start" textLength="34.4" lengthAdjust="spacingAndGlyphs">Sep</text>
<text x="958.7" y="1278.42" font-size="20.63" font-weight="normal" fill="#474747" text-anchor="start" textLength="22.9" lengthAdjust="spacingAndGlyphs">20</text>
<text x="1083.9" y="1278.42" font-size="20.63" font-weight="normal" fill="#474747" text-anchor="start" textLength="32.9" lengthAdjust="spacingAndGlyphs">Oct</text>
<text x="1248.6" y="1278.42" font-size="20.63" font-weight="normal" fill="#474747" text-anchor="start" textLength="22.5" lengthAdjust="spacingAndGlyphs">18</text>
<text x="1387.9" y="1278.42" font-size="20.63" font-weight="normal" fill="#474747" text-anchor="start" textLength="34.1" lengthAdjust="spacingAndGlyphs">Nov</text>
<text x="1538.2" y="1278.42" font-size="20.63" font-weight="normal" fill="#474747" text-anchor="start" textLength="23.3" lengthAdjust="spacingAndGlyphs">15</text>
<text x="1705.8" y="1278.42" font-size="20.63" font-weight="normal" fill="#474747" text-anchor="start" textLength="35.8" lengthAdjust="spacingAndGlyphs">Dec</text>
<text x="1901.2" y="1278.42" font-size="20.63" font-weight="normal" fill="#474747" text-anchor="start" textLength="23.5" lengthAdjust="spacingAndGlyphs">20</text>
<text x="2033.2" y="1278.42" font-size="20.63" font-weight="bold" fill="#474747" text-anchor="start" textLength="48.3" lengthAdjust="spacingAndGlyphs">2022</text>
<text x="2191.5" y="1278.42" font-size="20.63" font-weight="normal" fill="#474747" text-anchor="start" textLength="23.3" lengthAdjust="spacingAndGlyphs">17</text>
<text x="2345.1" y="1278.42" font-size="20.63" font-weight="normal" fill="#474747" text-anchor="start" textLength="33.6" lengthAdjust="spacingAndGlyphs">Feb</text>
</svg></body></html>
